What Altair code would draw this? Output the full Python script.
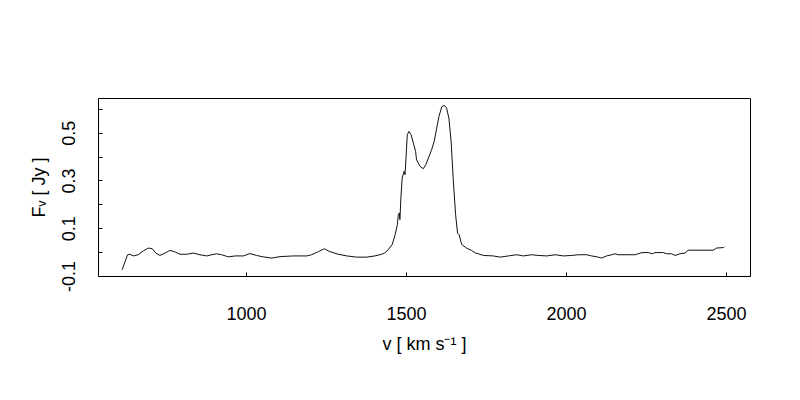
import altair as alt
import pandas as pd

velocity = [613, 630, 637, 648, 663, 679, 695, 707, 718, 731,
            747, 762, 776, 794, 815, 835, 856, 877, 893, 908,
            924, 945, 966, 992, 1012, 1033, 1054, 1080, 1106, 1148,
            1190, 1205, 1226, 1245, 1262, 1288, 1315, 1346, 1377, 1403,
            1424, 1434, 1445, 1457, 1466, 1473, 1476, 1479, 1481, 1484,
            1488, 1494, 1497, 1500, 1504, 1509, 1516, 1523, 1530, 1533,
            1544, 1554, 1562, 1570, 1580, 1588, 1596, 1603, 1612, 1620,
            1627, 1634, 1641, 1648, 1655, 1661, 1666, 1674, 1690, 1705,
            1716, 1742, 1773, 1794, 1820, 1846, 1867, 1893, 1913, 1940,
            1966, 1992, 2018, 2038, 2065, 2080, 2101, 2111, 2127, 2143,
            2153, 2163, 2216, 2237, 2257, 2270, 2278, 2304, 2315, 2330,
            2341, 2356, 2372, 2382, 2460, 2471, 2492, 2495]

flux = [-0.074, -0.011, -0.009, -0.016, -0.011, 0.005, 0.017, 0.014, -0.004, -0.014,
        -0.004, 0.007, 0.002, -0.009, -0.009, -0.004, -0.011, -0.016, -0.011, -0.007,
        -0.011, -0.020, -0.016, -0.016, -0.006, -0.014, -0.020, -0.025, -0.019, -0.016,
        -0.016, -0.011, 0.002, 0.014, 0.002, -0.009, -0.016, -0.021, -0.021, -0.016,
        -0.009, -0.003, 0.011, 0.032, 0.073, 0.115, 0.157, 0.164, 0.136, 0.227,
        0.310, 0.338, 0.324, 0.394, 0.491, 0.505, 0.491, 0.456, 0.422, 0.386,
        0.359, 0.349, 0.366, 0.394, 0.428, 0.463, 0.519, 0.568, 0.609, 0.614,
        0.602, 0.561, 0.463, 0.296, 0.157, 0.080, 0.073, 0.032, 0.016, 0.007,
        -0.003, -0.014, -0.016, -0.021, -0.016, -0.011, -0.016, -0.011, -0.014, -0.016,
        -0.011, -0.016, -0.014, -0.011, -0.011, -0.016, -0.021, -0.025, -0.016, -0.011,
        -0.007, -0.011, -0.011, -0.002, -0.002, -0.007, -0.002, -0.002, -0.007, -0.007,
        -0.014, -0.007, -0.004, 0.008, 0.008, 0.017, 0.019, 0.023]

x_ticks = [1000, 1500, 2000, 2500]
y_ticks = [-0.1, 0.0, 0.1, 0.2, 0.3, 0.4, 0.5, 0.6]

df = pd.DataFrame({"v": velocity, "f": flux})

FONT = "Liberation Sans"
FS = 18

chart = alt.Chart(df).mark_line(color="#111111", strokeWidth=1).encode(
    x=alt.X("v:Q",
            scale=alt.Scale(domain=[537.5, 2575], nice=False, zero=False),
            axis=alt.Axis(values=x_ticks, format="d", title="v [ km s⁻¹ ]",
                          offset=-4, tickSize=4, domain=False, grid=False,
                          labelFontSize=FS, labelPadding=29, labelFont=FONT,
                          labelColor="black", tickColor="black",
                          labelFlush=False, labelOverlap=False,
                          titleFont=FONT, titleFontSize=FS, titleFontWeight="normal",
                          titleColor="black", titlePadding=12)),
    y=alt.Y("f:Q",
            scale=alt.Scale(domain=[-0.1, 0.645], nice=False, zero=False),
            axis=alt.Axis(values=y_ticks, title="Fᵥ [ Jy ]",
                          labelExpr="(round(datum.value*10) % 2 != 0) ? (datum.value < 0 ? '-' + format(-datum.value, '.1f') : format(datum.value, '.1f')) : ''",
                          offset=-4, tickSize=4, domain=False, grid=False,
                          labelAngle=270, labelAlign="center", labelBaseline="bottom",
                          labelFontSize=FS, labelPadding=20, labelFont=FONT,
                          labelColor="black", tickColor="black",
                          labelFlush=False, labelOverlap=False,
                          titleFont=FONT, titleFontSize=FS, titleFontWeight="normal",
                          titleColor="black", titlePadding=12, titleAngle=270)),
).properties(
    width=652, height=178,
    padding={"left": 90, "top": 90, "right": 40, "bottom": 100},
    autosize=alt.AutoSizeParams(type="none"),
    background="white",
).configure_view(stroke="black", strokeWidth=1)

chart.save("out.html", embed_options={"renderer": "svg", "actions": False})
